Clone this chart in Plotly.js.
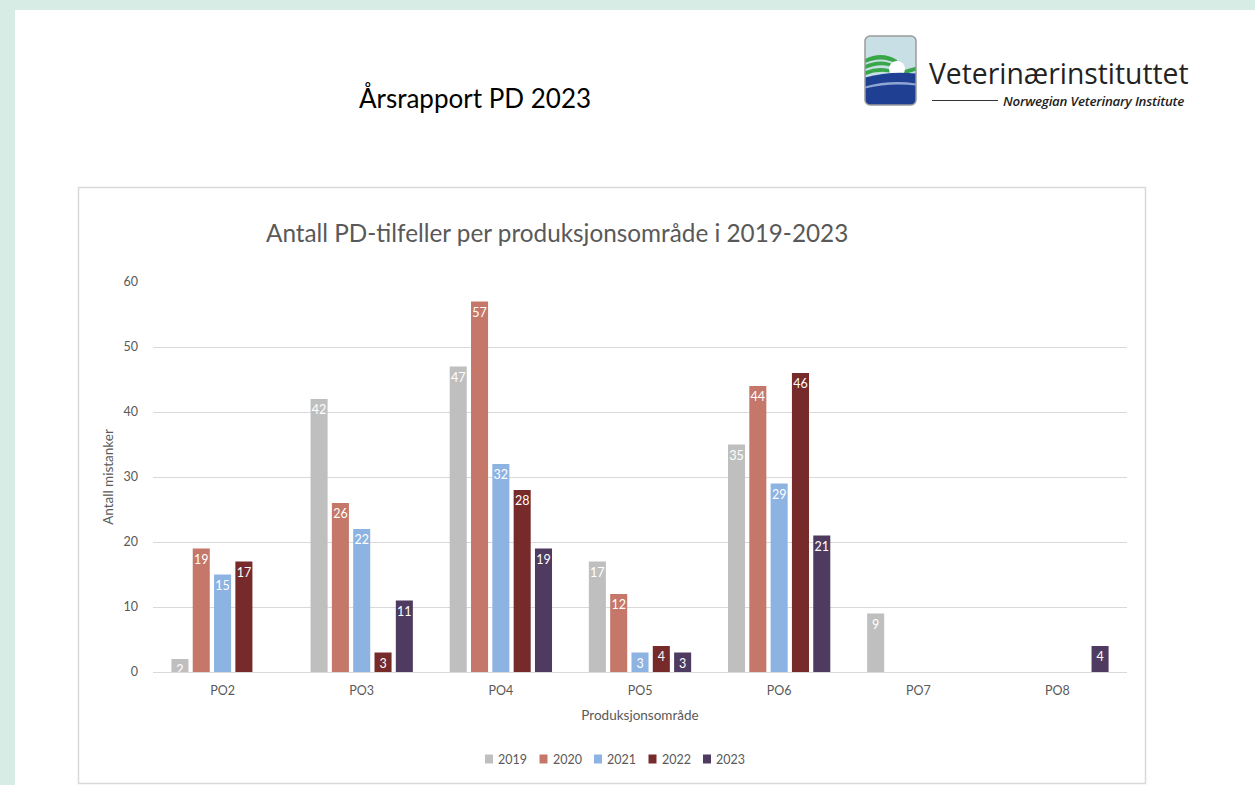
<!DOCTYPE html>
<html>
<head>
<meta charset="utf-8">
<script src="https://cdn.plot.ly/plotly-3.0.1.min.js"></script>
<style>
  html, body { margin:0; padding:0; background:#d7ece5; width:1255px; height:785px; overflow:hidden; }
  #page { position:absolute; left:15px; top:10px; width:1240px; height:775px; background:#ffffff; }
  #chart { position:absolute; left:0; top:0; width:1255px; height:785px; }
  #logo { position:absolute; left:863px; top:34px; }
  .brand { position:absolute; font-family:'Open Sans','DejaVu Sans',sans-serif; color:#222; line-height:1; white-space:nowrap; }
</style>
</head>
<body>
<div id="page"></div>
<div id="chart"></div>
<svg id="logo" width="56" height="74" viewBox="0 0 56 74">
  <defs>
    <clipPath id="rr"><rect x="2" y="2" width="51" height="69" rx="5" ry="5"/></clipPath>
  </defs>
  <g clip-path="url(#rr)">
    <rect x="0" y="0" width="56" height="74" fill="#c9dfe6"/>
    <path d="M0 26 Q18 16 34 26 L34 30 Q18 21 0 30 Z" fill="#3aa64a"/>
    <path d="M0 32 Q18 23 34 32 L34 35 Q18 27 0 36 Z" fill="#3aa64a"/>
    <path d="M0 38 Q18 30 34 38 L36 41 Q18 34 0 42 Z" fill="#3aa64a"/>
    <path d="M36 38 Q46 34 56 32 L56 36 Q46 38 38 42 Z" fill="#3aa64a"/>
    <circle cx="34" cy="35" r="8" fill="#ffffff"/>
    <path d="M0 44 Q28 36 56 40 L56 74 L0 74 Z" fill="#1f3f93"/>
    <path d="M0 53 Q28 45 56 50 L56 52 Q28 48 0 55 Z" fill="#8fa6d4"/>
  </g>
  <rect x="2" y="2" width="51" height="69" rx="5" ry="5" fill="none" stroke="#9a9a9a" stroke-width="1.5"/>
</svg>
<div class="brand" style="left:929px; top:59px; font-size:28.3px;">Veterinærinstituttet</div>
<div style="position:absolute; left:932px; top:100px; width:66px; height:1px; background:#333;"></div>
<div class="brand" style="left:1003px; top:95px; font-size:13.3px; font-style:italic; font-weight:600; letter-spacing:-0.2px;">Norwegian Veterinary Institute</div>
<script>
const categories = ['PO2', 'PO3', 'PO4', 'PO5', 'PO6', 'PO7', 'PO8'];
const years = ['2019', '2020', '2021', '2022', '2023'];
const v2019 = [2, 42, 47, 17, 35, 9, null];
const v2020 = [19, 26, 57, 12, 44, null, null];
const v2021 = [15, 22, 32, 3, 29, null, null];
const v2022 = [17, 3, 28, 4, 46, null, null];
const v2023 = [null, 11, 19, 3, 21, null, 4];
const seriesValues = [v2019, v2020, v2021, v2022, v2023];
const colors = ['#bfbfbf', '#c5786a', '#8db3e2', '#772a2a', '#4f3b60'];
const yTicks = [0, 10, 20, 30, 40, 50, 60];

const W = 1255, H = 785;
const mL = 153, mR = 128, mT = 282, mB = 113;
const pw = W - mL - mR, ph = H - mT - mB;
const px = x => (x - mL) / pw;
const py = y => (H - mB - y) / ph;

const font = "Lato, 'Open Sans', 'Liberation Sans', sans-serif";

const traces = years.map((yr, i) => ({
  type: 'bar',
  name: yr,
  x: categories,
  y: seriesValues[i],
  marker: { color: colors[i] },
  text: seriesValues[i].map(v => v === null ? '' : String(v)),
  textposition: 'inside',
  insidetextanchor: 'end',
  textangle: 0,
  constraintext: 'none',
  textfont: { color: '#ffffff', size: 12.5, family: font },
  hoverinfo: 'x+y+name',
  showlegend: false
}));

// manual compact legend (Excel style)
const legendShapes = [], legendAnn = [];
const legX0 = 485, legPitch = 54.5, legY = 759;
years.forEach((yr, i) => {
  const x = legX0 + i * legPitch;
  legendShapes.push({ type: 'rect', xref: 'paper', yref: 'paper',
    x0: px(x), x1: px(x + 8), y0: py(legY + 4.5), y1: py(legY - 4.5),
    line: { width: 0 }, fillcolor: colors[i] });
  legendAnn.push({ xref: 'paper', yref: 'paper', x: px(x + 11), y: py(legY), xanchor: 'left', yanchor: 'middle',
    showarrow: false, text: yr, font: { family: font, size: 12.5, color: '#595959' } });
});

const layout = {
  width: W, height: H,
  paper_bgcolor: 'rgba(0,0,0,0)',
  plot_bgcolor: 'rgba(0,0,0,0)',
  margin: { l: mL, r: mR, t: mT, b: mB, pad: 0 },
  barmode: 'group',
  bargap: 0.234,
  bargroupgap: 0.2,
  showlegend: false,
  xaxis: {
    type: 'category',
    range: [-0.5, 6.5],
    showgrid: false, zeroline: false, showline: false,
    ticks: '',
    tickfont: { family: font, size: 12.5, color: '#595959' },
    ticklabelstandoff: 9,
    title: { text: 'Produksjonsområde', font: { family: font, size: 13.5, color: '#595959' }, standoff: 14 }
  },
  yaxis: {
    range: [0, 60],
    tickvals: yTicks,
    ticktext: yTicks.map(String),
    showgrid: true, gridcolor: '#d9d9d9', gridwidth: 1,
    zeroline: true, zerolinecolor: '#d9d9d9', zerolinewidth: 1,
    showline: false, ticks: '',
    tickfont: { family: font, size: 12.5, color: '#595959' },
    ticklabelstandoff: 14,
    title: { text: 'Antall mistanker', font: { family: font, size: 13.5, color: '#595959' }, standoff: 6 }
  },
  shapes: [
    { type: 'rect', xref: 'paper', yref: 'paper', x0: px(78.5), x1: px(1145.5), y0: py(783.5), y1: py(187.5),
      line: { color: '#d9d9d9', width: 1.5 }, fillcolor: 'rgba(0,0,0,0)', layer: 'below' }
  ].concat(legendShapes),
  annotations: [
    { xref: 'paper', yref: 'paper', x: px(475), y: py(98), xanchor: 'center', yanchor: 'middle', showarrow: false,
      text: 'Årsrapport PD 2023', font: { family: font, size: 26, color: '#000000' } },
    { xref: 'paper', yref: 'paper', x: px(557), y: py(232), xanchor: 'center', yanchor: 'middle', showarrow: false,
      text: 'Antall PD-tilfeller per produksjonsområde i 2019-2023', font: { family: font, size: 24.3, color: '#595959' } }
  ].concat(legendAnn)
};

Plotly.newPlot('chart', traces, layout, { displayModeBar: false, staticPlot: true });
</script>
</body>
</html>
